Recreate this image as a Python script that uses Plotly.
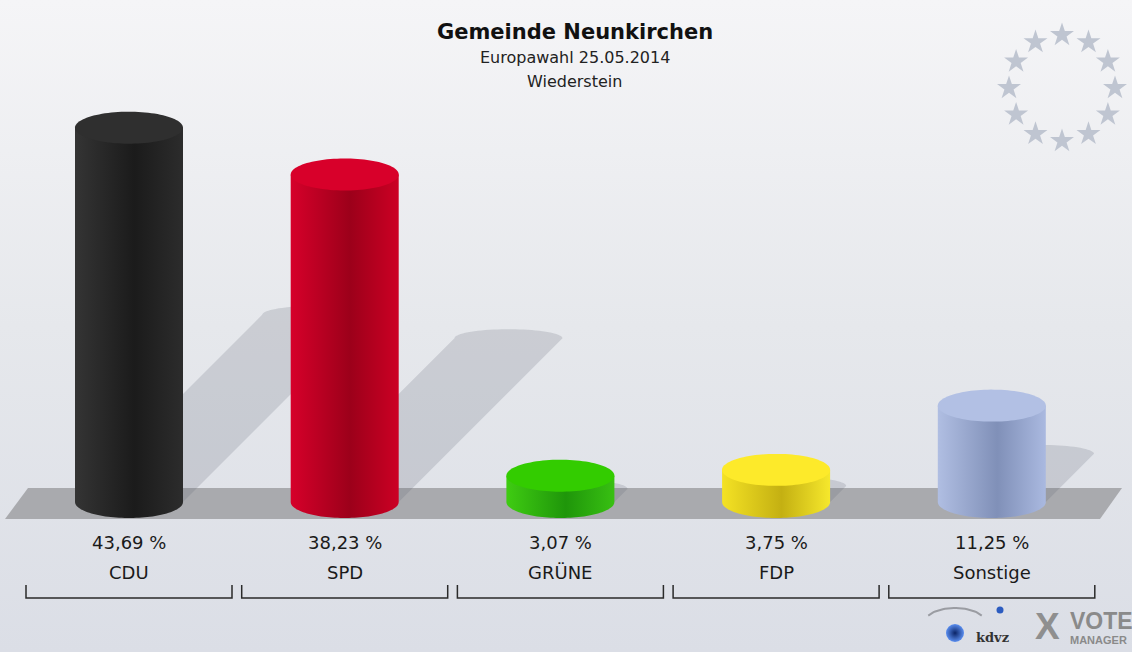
import numpy as np
import plotly.graph_objects as go

# ---------------- data ----------------
parties = ["CDU", "SPD", "GRÜNE", "FDP", "Sonstige"]
values = [43.69, 38.23, 3.07, 3.75, 11.25]
value_labels = ["43,69 %", "38,23 %", "3,07 %", "3,75 %", "11,25 %"]
title_lines = ["Gemeinde Neunkirchen", "Europawahl 25.05.2014", "Wiederstein"]

body_left = ["#343434", "#d6002a", "#3fcc12", "#f4e224", "#b0bee2"]
body_dark = ["#1b1b1b", "#9c001a", "#1f960a", "#c4b012", "#8090b8"]
body_right = ["#2c2c2c", "#cc0024", "#38c012", "#f6e82c", "#aab9e0"]
top_color = ["#2f2f2f", "#d8002a", "#33cc00", "#fdea2a", "#b2c0e4"]

# ---------------- geometry (pixel -> data) ----------------
W, H = 1132, 652
PX_CAT = 215.7     # px per category step
X0 = 129           # px centre of first category
PX_Y = 8.567       # px per percent
BASE = 502         # px of value 0

def px(xp, yp):
    return (xp - X0) / PX_CAT, (BASE - yp) / PX_Y

xr = [px(0, 0)[0], px(W, 0)[0]]
yr = [px(0, H)[1], px(0, 0)[1]]
rx = 54 / PX_CAT
ry = 16 / PX_Y
font = "DejaVu Sans, Liberation Sans, Arial, sans-serif"

fig = go.Figure()

# background gradient
fig.add_trace(go.Scatter(
    x=[xr[0], xr[1], xr[1], xr[0], xr[0]], y=[yr[0], yr[0], yr[1], yr[1], yr[0]],
    mode="none", fill="toself",
    fillgradient=dict(type="vertical", colorscale=[[0, "#dbdee6"], [0.5, "#e6e8ec"], [1, "#f5f5f7"]]),
    hoverinfo="skip", showlegend=False))

# floor
fl = [px(5, 519), px(28, 488), px(1122, 488), px(1100, 519), px(5, 519)]
fig.add_trace(go.Scatter(x=[p[0] for p in fl], y=[p[1] for p in fl], mode="none",
                         fill="toself", fillcolor="#a9aaae", hoverinfo="skip", showlegend=False))

# shadows
t = np.linspace(0, np.pi, 40)
for i, v in enumerate(values):
    h = 0.5 * v
    dx = h * PX_Y / PX_CAT
    rys = 9 / PX_Y
    xs = [i - rx, i - rx + dx] + list(i + dx - rx * np.cos(t)) + [i + rx + dx, i + rx, i - rx]
    ys = [0, h] + list(h + rys * np.sin(t)) + [h, 0, 0]
    fig.add_trace(go.Scatter(x=xs, y=ys, mode="none", fill="toself",
                             fillcolor="rgba(95,100,115,0.2)", hoverinfo="skip", showlegend=False))

# cylinders
tt = np.linspace(0, np.pi, 60)
tf = np.linspace(0, 2 * np.pi, 100)
for i, v in enumerate(values):
    xs = [i - rx, i - rx, i + rx, i + rx] + list(i + rx * np.cos(tt)) + [i - rx]
    ys = [0, v, v, 0] + list(-ry * np.sin(tt)) + [0]
    fig.add_trace(go.Scatter(
        x=xs, y=ys, mode="none", fill="toself",
        fillgradient=dict(type="horizontal",
                          colorscale=[[0, body_left[i]], [0.55, body_dark[i]], [1, body_right[i]]]),
        hoverinfo="skip", showlegend=False))
    fig.add_trace(go.Scatter(
        x=list(i + rx * np.cos(tf)), y=list(v + ry * np.sin(tf)), mode="none", fill="toself",
        fillcolor=top_color[i], hoverinfo="skip", showlegend=False))

# EU stars
ang = np.arange(12) * np.pi / 6
spts = [px(1062 + 53 * np.sin(a), 88 - 53 * np.cos(a)) for a in ang]
fig.add_trace(go.Scatter(x=[p[0] for p in spts], y=[p[1] for p in spts], mode="markers",
                         marker=dict(symbol="star", size=18, color="#bfc5d1", line=dict(width=0)),
                         hoverinfo="skip", showlegend=False))

# logo swoosh + spheres
ta = np.linspace(0.15 * np.pi, 0.85 * np.pi, 30)
arc = [px(985 - 60 * (1 - np.cos(a)) / 2, 622 - 14 * np.sin(a)) for a in ta]
fig.add_trace(go.Scatter(x=[p[0] for p in arc], y=[p[1] for p in arc], mode="lines",
                         line=dict(color="#9a9ca2", width=2), hoverinfo="skip", showlegend=False))
lp = px(955, 633)
fig.add_trace(go.Scatter(x=[lp[0]], y=[lp[1]], mode="markers",
                         marker=dict(size=18, color="#5a8ef0",
                                     gradient=dict(type="radial", color="#0b2466"), line=dict(width=0)),
                         hoverinfo="skip", showlegend=False))
lp2 = px(1000, 610)
fig.add_trace(go.Scatter(x=[lp2[0]], y=[lp2[1]], mode="markers",
                         marker=dict(size=7, color="#2c5cc0", line=dict(width=0)),
                         hoverinfo="skip", showlegend=False))

annotations = []
shapes = []
y_pct = px(0, 542)[1]
y_name = px(0, 572)[1]
y_t1 = px(0, 585)[1]
y_t2 = px(0, 598)[1]
bw = 103 / PX_CAT
for i, (p, lab) in enumerate(zip(parties, value_labels)):
    annotations.append(dict(x=i, y=y_pct, text=lab, showarrow=False, xref="x", yref="y",
                            xanchor="center", yanchor="middle",
                            font=dict(family=font, size=18, color="#1a1a1a")))
    annotations.append(dict(x=i, y=y_name, text=p, showarrow=False, xref="x", yref="y",
                            xanchor="center", yanchor="middle",
                            font=dict(family=font, size=18, color="#1a1a1a")))
    shapes.append(dict(type="path", xref="x", yref="y",
                       path=f"M {i-bw},{y_t1} L {i-bw},{y_t2} L {i+bw},{y_t2} L {i+bw},{y_t1}",
                       line=dict(color="#2a2a2a", width=1.5)))

def pa(text, xp, yp, size, fam=font, color="#222222", xanchor="center"):
    annotations.append(dict(x=xp / W, y=1 - yp / H, xref="paper", yref="paper", text=text,
                            xanchor=xanchor, yanchor="middle", showarrow=False,
                            font=dict(family=fam, size=size, color=color)))

# title
pa(f"<b>{title_lines[0]}</b>", 575, 32, 21, color="#111111")
pa(title_lines[1], 575, 57, 16)
pa(title_lines[2], 575, 82, 16)

# logo text
pa("<b>kdvz</b>", 974, 637, 13, fam="DejaVu Serif, serif", color="#333333", xanchor="left")
pa("<b>X</b>", 1047, 626, 37, fam="Liberation Sans, Arial", color="#8f8f8f")
pa("<b>VOTE</b>", 1068, 621, 23, fam="Liberation Sans, Arial", color="#8a8a8a", xanchor="left")
pa("<b>MANAGER</b>", 1068, 640, 11, fam="Liberation Sans, Arial", color="#8a8a8a", xanchor="left")

fig.update_layout(
    width=W, height=H,
    margin=dict(l=0, r=0, t=0, b=0),
    paper_bgcolor="#e6e8ec", plot_bgcolor="#e6e8ec",
    xaxis=dict(range=xr, visible=False, fixedrange=True),
    yaxis=dict(range=yr, visible=False, fixedrange=True),
    annotations=annotations, shapes=shapes,
    showlegend=False,
)

fig.write_html("out.html", config={"displayModeBar": False},
               post_script="document.body.style.margin='0';document.body.style.overflow='hidden';")
